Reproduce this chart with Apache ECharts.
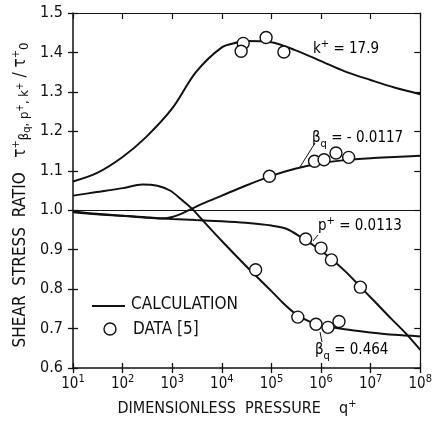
<!DOCTYPE html>
<html><head><meta charset="utf-8">
<script src="https://cdn.jsdelivr.net/npm/echarts@6/dist/echarts.min.js"></script>
<style>html,body{margin:0;padding:0;background:#fff}#c{width:435px;height:423px}</style>
</head><body><div id="c"></div>
<script>
const FONT = '"DejaVu Sans Condensed","Liberation Sans Narrow","DejaVu Sans",sans-serif';
const INK = '#111';

// ---- axis ticks ----
const xMin = 10, xMax = 1e8;
const yMin = 0.6, yMax = 1.5, yStep = 0.1;

// ---- calculated curves (q+, ratio) ----
const kQ  = [10, 30, 100, 300, 1000, 3000, 1e4, 2e4, 3e4, 1e5, 3e5, 1e6, 3e6, 1e7, 3e7, 1e8];
const kY  = [1.073, 1.094, 1.135, 1.186, 1.258, 1.350, 1.413, 1.425, 1.429, 1.426, 1.406, 1.378, 1.352, 1.330, 1.311, 1.294];

const bnQ = [10, 30, 100, 300, 600, 1000, 1600, 2500, 4000, 1e4, 3e4, 1e5, 3e5, 1e6, 3e6, 1e7, 3e7, 1e8];
const bnY = [0.997, 0.991, 0.986, 0.981, 0.979, 0.983, 0.992, 1.004, 1.016, 1.037, 1.062, 1.087, 1.105, 1.119, 1.127, 1.132, 1.135, 1.138];

const pQ  = [10, 30, 100, 300, 1000, 3000, 1e4, 3e4, 1e5, 2e5, 4e5, 8e5, 1.6e6, 3.2e6, 6.3e6, 1.26e7, 2.5e7, 5e7, 1e8];
const pY  = [0.995, 0.990, 0.986, 0.982, 0.978, 0.975, 0.972, 0.968, 0.961, 0.953, 0.931, 0.906, 0.877, 0.843, 0.805, 0.766, 0.727, 0.689, 0.646];

const bpQ = [10, 30, 100, 250, 500, 900, 1600, 2500, 4000, 1e4, 3e4, 1e5, 1.8e5, 3e5, 5.6e5, 1e6, 3e6, 1e7, 3e7, 1e8];
const bpY = [1.037, 1.046, 1.056, 1.065, 1.062, 1.050, 1.025, 1.004, 0.976, 0.922, 0.860, 0.795, 0.762, 0.738, 0.719, 0.709, 0.698, 0.690, 0.684, 0.680];

// ---- measured data [5] ----
const kQd  = [2.7e4, 2.45e4, 7.8e4, 1.78e5];
const kYd  = [1.423, 1.403, 1.438, 1.401];
const bnQd = [9.1e4, 7.4e5, 1.15e6, 2.0e6, 3.6e6];
const bnYd = [1.086, 1.124, 1.128, 1.145, 1.134];
const pQd  = [4.9e5, 1.0e6, 1.62e6, 6.2e6];
const pYd  = [0.927, 0.904, 0.874, 0.805];
const bpQd = [4.8e4, 3.4e5, 7.9e5, 1.38e6, 2.3e6];
const bpYd = [0.849, 0.729, 0.711, 0.703, 0.718];

const zip = (a, b) => a.map((v, i) => [v, b[i]]);

const chart = echarts.init(document.getElementById('c'), null, {renderer: 'canvas'});

const curve = (q, y, extra) => Object.assign({
  name: 'CALCULATION', type: 'line', data: zip(q, y), smooth: 0.3,
  symbol: 'none', lineStyle: {color: INK, width: 2}, itemStyle: {color: INK},
  xAxisIndex: 0, yAxisIndex: 0, z: 3, silent: true
}, extra || {});
const pts = (q, y) => ({
  name: 'DATA [5]', type: 'scatter', data: zip(q, y), symbol: 'circle', symbolSize: 12,
  itemStyle: {color: '#fff', borderColor: INK, borderWidth: 1.4, opacity: 1},
  xAxisIndex: 0, yAxisIndex: 0, z: 5, silent: true
});

const rich = {
  m:   {fontFamily: FONT, fontSize: 17, color: INK},
  n:   {fontFamily: FONT, fontSize: 15, color: INK},
  sup: {fontFamily: FONT, fontSize: 11, color: INK, padding: [0, 0, 9, 0]},
  sub: {fontFamily: FONT, fontSize: 13, color: INK, padding: [8, 0, 0, 0]},
  subq:{fontFamily: FONT, fontSize: 11, color: INK, padding: [13, 0, 0, 0]},
  ssup:{fontFamily: FONT, fontSize: 10, color: INK, padding: [0, 0, 2, 0]}
};

const baseX = {type: 'log', logBase: 10, min: xMin, max: xMax, splitNumber: 7, gridIndex: 0,
  splitLine: {show: false}, minorTick: {show: false}};
const baseY = {type: 'value', min: yMin, max: yMax, interval: yStep, gridIndex: 0,
  splitLine: {show: false}};

const option = {
  backgroundColor: '#fff',
  animation: false,
  grid: {left: 73, right: 12, top: 13, bottom: 55},
  xAxis: [
    Object.assign({}, baseX, {position: 'bottom',
      axisLine: {show: true, lineStyle: {color: INK, width: 1.5}},
      axisTick: {show: true, inside: false, length: 5, lineStyle: {color: INK, width: 1.3}},
      axisLabel: {margin: 6, color: INK,
        formatter: v => '{b|10}{e|' + Math.round(Math.log10(v)) + '}',
        rich: {b: {fontFamily: FONT, fontSize: 15, color: INK},
               e: {fontFamily: FONT, fontSize: 11, color: INK, padding: [0, 0, 9, 0]}}}}),
    Object.assign({}, baseX, {position: 'bottom',
      axisLine: {show: false},
      axisTick: {show: true, inside: true, length: 5, lineStyle: {color: INK, width: 1.3}},
      axisLabel: {show: false}}),
    Object.assign({}, baseX, {position: 'top',
      axisLine: {show: true, lineStyle: {color: INK, width: 1.2}},
      axisTick: {show: true, inside: true, length: 6, lineStyle: {color: INK, width: 1.2}},
      axisLabel: {show: false}})
  ],
  yAxis: [
    Object.assign({}, baseY, {position: 'left',
      axisLine: {show: true, lineStyle: {color: INK, width: 1.5}},
      axisTick: {show: true, inside: false, length: 5, lineStyle: {color: INK, width: 1.3}},
      axisLabel: {margin: 10, color: INK, fontFamily: FONT, fontSize: 16,
        formatter: v => v.toFixed(1)}}),
    Object.assign({}, baseY, {position: 'left',
      axisLine: {show: false},
      axisTick: {show: true, inside: true, length: 5, lineStyle: {color: INK, width: 1.3}},
      axisLabel: {show: false}}),
    Object.assign({}, baseY, {position: 'right',
      axisLine: {show: true, lineStyle: {color: INK, width: 1.2}},
      axisTick: {show: true, inside: true, length: 6, lineStyle: {color: INK, width: 1.2}},
      axisLabel: {show: false}})
  ],
  series: [
    curve(kQ, kY, {markLine: {silent: true, symbol: 'none', label: {show: false},
      lineStyle: {color: INK, width: 1.2, type: 'solid'}, data: [{yAxis: 1.0}]}}),
    curve(bnQ, bnY),
    curve(pQ, pY),
    curve(bpQ, bpY),
    pts(kQd, kYd),
    pts(bnQd, bnYd),
    pts(pQd, pYd),
    pts(bpQd, bpYd)
  ],
  graphic: [
    // y-axis title
    {type: 'text', x: 21, y: 195, rotation: Math.PI / 2, silent: true,
      style: {text: '{m|SHEAR  STRESS  RATIO   τ}{sup|+}{sub|β}{subq|q}{sub|, p}{ssup|+}{sub|, k}{ssup|+}{m| / τ}{sup|+}{sub|0}',
        rich: rich, align: 'center', verticalAlign: 'middle', fill: INK}},
    // x-axis title
    {type: 'text', x: 237, y: 409, silent: true,
      style: {text: '{n|DIMENSIONLESS  PRESSURE    q}{sup|+}', rich: Object.assign({}, rich, {n: {fontFamily: FONT, fontSize: 16, color: INK}}),
        align: 'center', verticalAlign: 'middle', fill: INK}},
    // legend
    {type: 'line', silent: true, shape: {x1: 92, y1: 306, x2: 125, y2: 306}, style: {stroke: INK, lineWidth: 2}},
    {type: 'text', x: 131, y: 305, silent: true,
      style: {text: 'CALCULATION', font: '17px ' + FONT, fill: INK, align: 'left', verticalAlign: 'middle'}},
    {type: 'circle', silent: true, shape: {cx: 110, cy: 329, r: 6}, style: {fill: '#fff', stroke: INK, lineWidth: 1.4}},
    {type: 'text', x: 133, y: 330, silent: true,
      style: {text: 'DATA [5]', font: '17px ' + FONT, fill: INK, align: 'left', verticalAlign: 'middle'}},
    // curve labels
    {type: 'text', x: 313, y: 49, silent: true,
      style: {text: '{n|k}{sup|+}{n| = 17.9}', rich: rich, align: 'left', verticalAlign: 'middle'}},
    {type: 'text', x: 312, y: 138, silent: true,
      style: {text: '{n|β}{subq|q}{n| = - 0.0117}', rich: rich, align: 'left', verticalAlign: 'middle'}},
    {type: 'line', silent: true, shape: {x1: 315, y1: 143, x2: 300, y2: 167}, style: {stroke: INK, lineWidth: 1}},
    {type: 'text', x: 318, y: 226, silent: true,
      style: {text: '{n|p}{sup|+}{n| = 0.0113}', rich: rich, align: 'left', verticalAlign: 'middle'}},
    {type: 'line', silent: true, shape: {x1: 318, y1: 235, x2: 313, y2: 241}, style: {stroke: INK, lineWidth: 1}},
    {type: 'text', x: 315, y: 350, silent: true,
      style: {text: '{n|β}{subq|q}{n| = 0.464}', rich: rich, align: 'left', verticalAlign: 'middle'}},
    {type: 'line', silent: true, shape: {x1: 320, y1: 332, x2: 322, y2: 342}, style: {stroke: INK, lineWidth: 1}}
  ]
};
chart.setOption(option);
</script>
</body></html>
